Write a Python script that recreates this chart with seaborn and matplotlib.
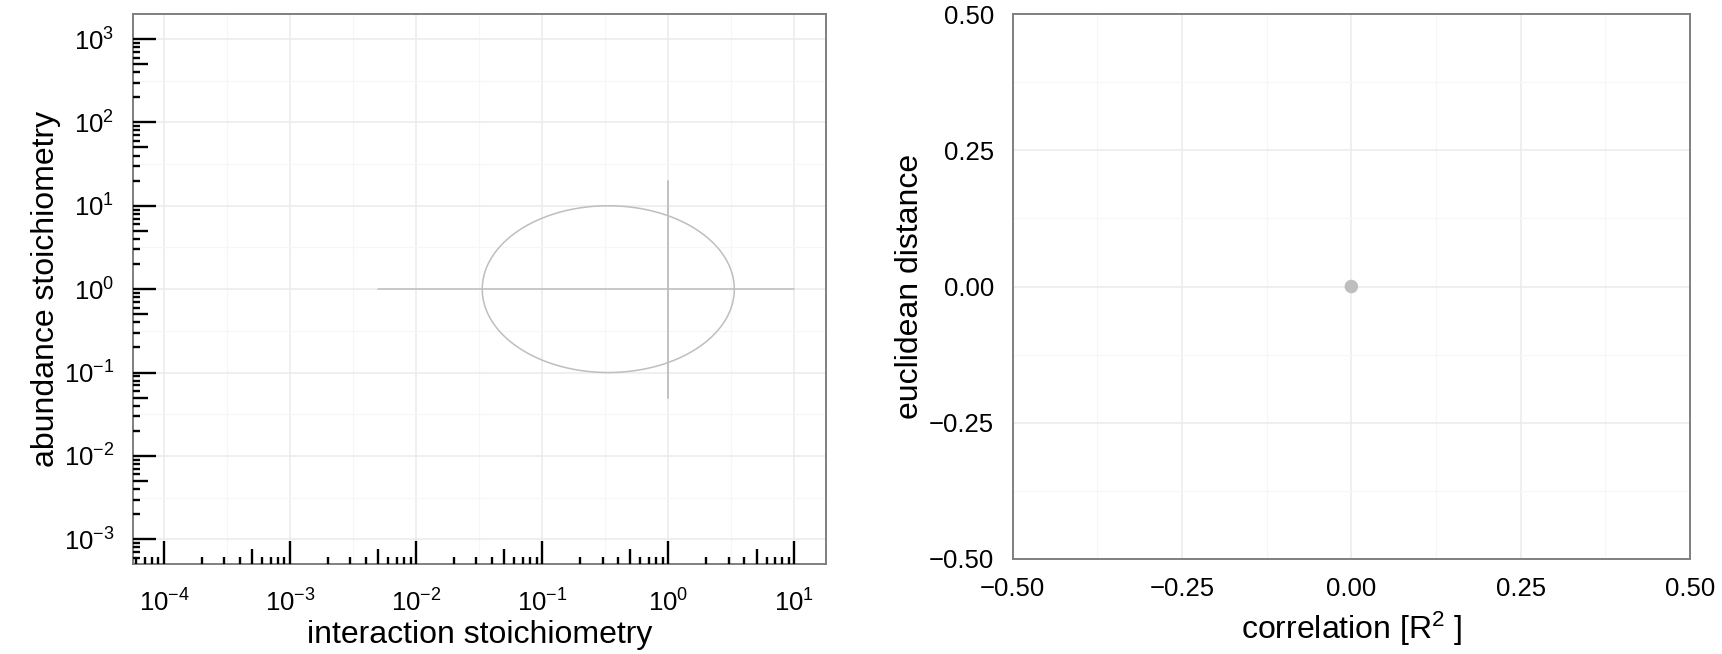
import numpy as np
import pandas as pd
import matplotlib
matplotlib.use("Agg")
import matplotlib.pyplot as plt
import seaborn as sns
from matplotlib import ticker, transforms

# ---------------- data ----------------
# left panel: interaction vs abundance stoichiometry (log-log)
ellipse_center_x = 1 / 3        # interaction stoichiometry
ellipse_center_y = 1.0          # abundance stoichiometry
ellipse_radius_decades = [1.0, 1.0]   # radius in log10 units (x, y)
hbar_x = [0.005, 10.0]
hbar_y = [1.0, 1.0]
vbar_x = [1.0, 1.0]
vbar_y = [0.05, 20.0]
x_major_left = [1e-4, 1e-3, 1e-2, 1e-1, 1e0, 1e1]
y_major_left = [1e-3, 1e-2, 1e-1, 1e0, 1e1, 1e2, 1e3]
x_lim_log = [-4.25, 1.25]
y_lim_log = [-3.3, 3.3]

# right panel: correlation vs euclidean distance
correlation = [0.0]
euclid_dist = [0.0]
ticks_right = [-0.50, -0.25, 0.00, 0.25, 0.50]
minor_right = [-0.375, -0.125, 0.125, 0.375]

# ---------------- style ----------------
sns.set_theme(style="white")
plt.rcParams["font.family"] = ["Liberation Sans", "DejaVu Sans"]
plt.rcParams["mathtext.fontset"] = "custom"
plt.rcParams["mathtext.rm"] = "Liberation Sans"
plt.rcParams["mathtext.it"] = "Liberation Sans:italic"
plt.rcParams["mathtext.default"] = "regular"
plt.rcParams["axes.labelcolor"] = "black"
plt.rcParams["text.color"] = "black"
plt.rcParams["xtick.color"] = "black"
plt.rcParams["ytick.color"] = "black"

GRID_MAJ = "#EBEBEB"
GRID_MIN = "#F6F6F6"
SPINE = "#7F7F7F"
MARK = "#BEBEBE"
TICK_FS = 18.5
TITLE_FS = 23

fig = plt.figure(figsize=(17.22, 6.54), dpi=100)
ax1 = fig.add_axes([0.07706, 0.13716, 0.40261, 0.84144])
ax2 = fig.add_axes([0.58809, 0.14526, 0.39332, 0.83333])


def style_axes(ax):
    for s in ax.spines.values():
        s.set_color(SPINE)
        s.set_linewidth(1.4)
        s.set_zorder(5)
    ax.tick_params(which="major", direction="out", length=8.3, width=1.8,
                   color="black", labelsize=TICK_FS, labelcolor="black")
    ax.tick_params(which="minor", length=0)
    ax.grid(which="major", color=GRID_MAJ, linewidth=1.1, zorder=0)
    ax.grid(which="minor", color=GRID_MIN, linewidth=0.8, zorder=0)
    ax.set_axisbelow(True)
    ax.set_facecolor("white")


# ---------------- left panel ----------------
ax1.set_xscale("log")
ax1.set_yscale("log")

t = np.linspace(0, 2 * np.pi, 400)
ell = pd.DataFrame({
    "x": 10 ** (np.log10(ellipse_center_x) + ellipse_radius_decades[0] * np.cos(t)),
    "y": 10 ** (np.log10(ellipse_center_y) + ellipse_radius_decades[1] * np.sin(t)),
})
sns.lineplot(data=ell, x="x", y="y", sort=False, estimator=None,
             color=MARK, linewidth=1.1, ax=ax1)
sns.lineplot(x=hbar_x, y=hbar_y, sort=False, estimator=None,
             color=MARK, linewidth=1.1, ax=ax1)
sns.lineplot(x=vbar_x, y=vbar_y, sort=False, estimator=None,
             color=MARK, linewidth=1.3, ax=ax1)

ax1.set_xlim(10 ** x_lim_log[0], 10 ** x_lim_log[1])
ax1.set_ylim(10 ** y_lim_log[0], 10 ** y_lim_log[1])
ax1.xaxis.set_major_locator(ticker.FixedLocator(x_major_left))
ax1.yaxis.set_major_locator(ticker.FixedLocator(y_major_left))
ax1.xaxis.set_major_formatter(ticker.LogFormatterSciNotation())
ax1.yaxis.set_major_formatter(ticker.LogFormatterSciNotation())
ax1.xaxis.set_minor_locator(ticker.FixedLocator([10 ** (k + 0.5) for k in range(-5, 2)]))
ax1.yaxis.set_minor_locator(ticker.FixedLocator([10 ** (k + 0.5) for k in range(-4, 4)]))
style_axes(ax1)
ax1.tick_params(axis="x", which="major", pad=10)
ax1.tick_params(axis="y", which="major", pad=5)

# log ticks (annotation_logticks style), lengths in pixels
fig.canvas.draw()
bb = ax1.get_window_extent()
ax_w, ax_h = bb.width, bb.height
L_LONG, L_MID, L_SHORT = 23.0, 15.3, 7.7
lt_kw = dict(color="black", linewidth=1.7, zorder=6, clip_on=False,
             solid_capstyle="butt")
trans_x = transforms.blended_transform_factory(ax1.transData, ax1.transAxes)
trans_y = transforms.blended_transform_factory(ax1.transAxes, ax1.transData)
for k in range(-6, 4):
    for m in range(1, 10):
        v = m * 10.0 ** k
        L = L_LONG if m == 1 else (L_MID if m == 5 else L_SHORT)
        if 10 ** x_lim_log[0] <= v <= 10 ** x_lim_log[1]:
            ax1.plot([v, v], [0, L / ax_h], transform=trans_x, **lt_kw)
        if 10 ** y_lim_log[0] <= v <= 10 ** y_lim_log[1]:
            ax1.plot([0, L / ax_w], [v, v], transform=trans_y, **lt_kw)

ax1.set_xlabel("interaction stoichiometry", fontsize=TITLE_FS, labelpad=2, color="black")
ax1.set_ylabel("abundance stoichiometry", fontsize=TITLE_FS, labelpad=2, color="black")

# ---------------- right panel ----------------
sns.scatterplot(x=correlation, y=euclid_dist, color=MARK, s=95,
                edgecolor="none", ax=ax2, zorder=4, clip_on=False)
ax2.set_xlim(-0.5, 0.5)
ax2.set_ylim(-0.5, 0.5)
ax2.xaxis.set_major_locator(ticker.FixedLocator(ticks_right))
ax2.yaxis.set_major_locator(ticker.FixedLocator(ticks_right))
ax2.xaxis.set_minor_locator(ticker.FixedLocator(minor_right))
ax2.yaxis.set_minor_locator(ticker.FixedLocator(minor_right))
fmt = ticker.FuncFormatter(lambda v, p: f"{v:.2f}".replace("-", "\u2212") if abs(v) > 1e-9 else "0.00")
ax2.xaxis.set_major_formatter(fmt)
ax2.yaxis.set_major_formatter(fmt)
style_axes(ax2)
ax2.tick_params(axis="x", which="major", pad=5)
ax2.tick_params(axis="y", which="major", pad=5)
ax2.set_xlabel("correlation [R$^2$ ]", fontsize=TITLE_FS, labelpad=6, color="black")
ax2.set_ylabel("euclidean distance", fontsize=TITLE_FS, labelpad=3, color="black")

fig.savefig("out.png", dpi=100, facecolor="white")
